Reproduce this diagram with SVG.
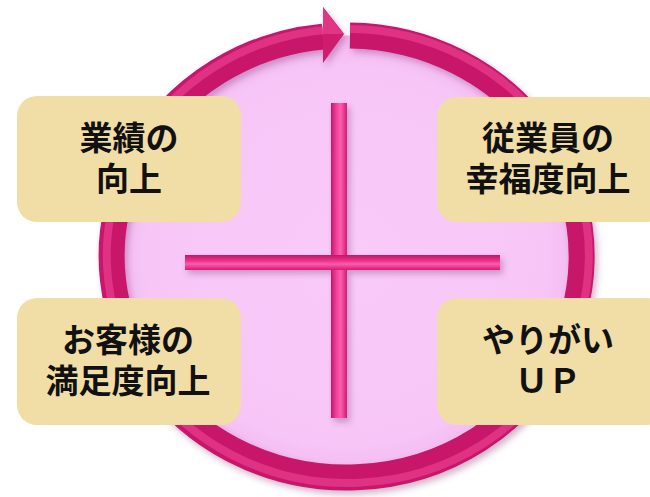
<svg xmlns="http://www.w3.org/2000/svg" width="650" height="497" viewBox="0 0 650 497">
<style>
.box{fill:#f1dea6;}
.t{font-family:"Noto Sans CJK JP","Noto Sans",sans-serif;font-size:33px;font-weight:700;fill:#111;text-anchor:middle;}
</style>
<defs>
<filter id="sh" x="-20%" y="-20%" width="140%" height="140%">
<feDropShadow dx="3" dy="4" stdDeviation="3" flood-color="#803070" flood-opacity="0.35"/>
</filter>
<radialGradient id="fillG" cx="0.5" cy="0.5" r="0.5">
<stop offset="0" stop-color="#f9cbf9"/>
<stop offset="0.85" stop-color="#f7c6f7"/>
<stop offset="1" stop-color="#f3b8f0"/>
</radialGradient>
<linearGradient id="vbar" x1="0" y1="0" x2="1" y2="0">
<stop offset="0" stop-color="#c8146a"/>
<stop offset="0.35" stop-color="#f0449a"/>
<stop offset="0.6" stop-color="#ff5cae"/>
<stop offset="1" stop-color="#d21c72"/>
</linearGradient>
<linearGradient id="hbar" x1="0" y1="0" x2="0" y2="1">
<stop offset="0" stop-color="#c8146a"/>
<stop offset="0.4" stop-color="#e8388c"/>
<stop offset="0.6" stop-color="#ff5cae"/>
<stop offset="1" stop-color="#d21c72"/>
</linearGradient>
</defs>
<g id="circle">
<ellipse cx="346.5" cy="256.5" rx="235" ry="221" fill="url(#fillG)"/>
</g>
<g id="connectors">
<g id="ring" filter="url(#sh)">
<path d="M 350 35.5 A 235 221 0 1 1 323 36.6" fill="none" stroke="#c8146a" stroke-width="26"/>
<path d="M 350 29 A 241 227 0 1 1 323 30.2" fill="none" stroke="#e6378a" stroke-width="8" opacity="0.8"/>
<polygon points="323,7 344,34 323,63" fill="#d01a6e"/>
<polygon points="323,7 344,34 323,34" fill="#e23484"/>
</g>
<g id="cross" filter="url(#sh)">
<rect x="331" y="103" width="16" height="315" fill="url(#vbar)"/>
<rect x="185" y="255" width="315" height="15" fill="url(#hbar)"/>
</g>
</g>
<g id="node1">
<rect class="box" x="17" y="96" width="224" height="126" rx="20"/>
<text class="t"><tspan x="129" y="150">業績の</tspan><tspan x="129" y="191">向上</tspan></text>
</g>
<g id="node2">
<rect class="box" x="437" y="97" width="230" height="125" rx="20"/>
<text class="t"><tspan x="548" y="150">従業員の</tspan><tspan x="548" y="191">幸福度向上</tspan></text>
</g>
<g id="node3">
<rect class="box" x="17" y="298" width="224" height="127" rx="20"/>
<text class="t"><tspan x="128" y="352">お客様の</tspan><tspan x="128" y="393">満足度向上</tspan></text>
</g>
<g id="node4">
<rect class="box" x="437" y="298" width="230" height="127" rx="20"/>
<text class="t"><tspan x="548" y="352">やりがい</tspan><tspan x="548" y="393">ＵＰ</tspan></text>
</g>
</svg>
